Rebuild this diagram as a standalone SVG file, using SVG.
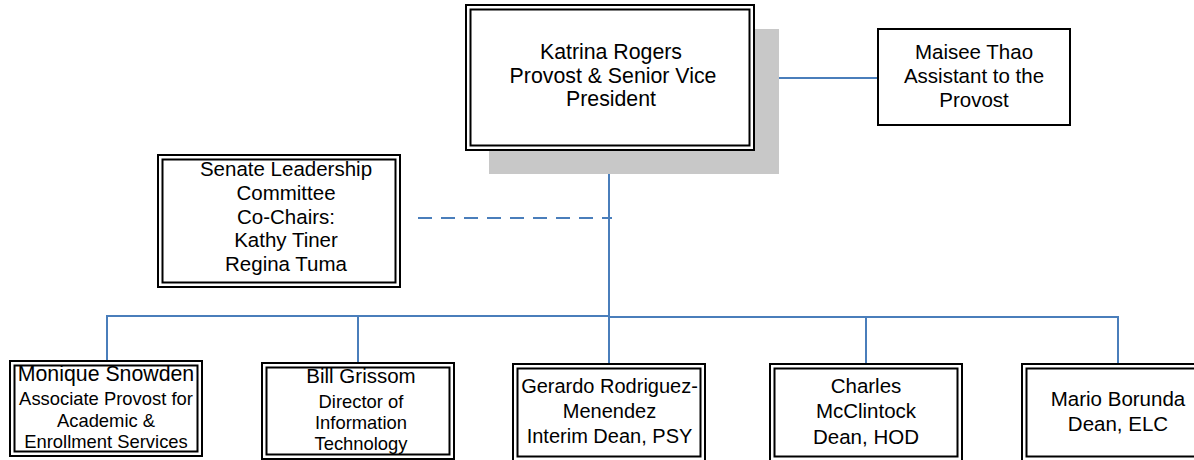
<svg xmlns="http://www.w3.org/2000/svg" width="1194" height="460" viewBox="0 0 1194 460">
<style>
.bg{fill:#ffffff}
.frame{fill:none;stroke:#000;stroke-width:2}
.fill{fill:#ffffff}
.shadow{fill:#c8c8c8}
.t{font-family:"Liberation Sans",Arial,sans-serif;font-size:20.5px;fill:#000;text-anchor:middle}
.m{font-size:21.3px}
.s{font-size:18.4px}
.g{font-size:20px}
.c{fill:none;stroke:#4a7ebb;stroke-width:2}
.d{stroke-dasharray:14 9}
</style>
<rect class="bg" x="0" y="0" width="1194" height="460"/>
<g id="connectors">
<line class="c" x1="754" y1="78" x2="878" y2="78"/>
<line class="c" x1="609" y1="150" x2="609" y2="364"/>
<line class="c d" x1="418" y1="218" x2="612" y2="218"/>
<polyline class="c" points="107,362 107,316 609,316"/>
<line class="c" x1="358" y1="316" x2="358" y2="363"/>
<polyline class="c" points="609,317 1118,317 1118,364"/>
<line class="c" x1="866" y1="317" x2="866" y2="364"/>
</g>
<g id="provost">
<rect class="shadow" x="489" y="29" width="290" height="145"/>
<rect class="fill" x="466" y="5" width="288" height="145"/>
<rect class="frame" x="466" y="5" width="288" height="145"/>
<rect class="frame" x="470.5" y="9.5" width="279" height="136"/>
<text class="t m" x="611" y="59">Katrina Rogers</text>
<text class="t m" x="613" y="83">Provost &amp; Senior Vice</text>
<text class="t m" x="611" y="106">President</text>
</g>
<g id="assistant">
<rect class="fill" x="878" y="29" width="192" height="96"/>
<rect class="frame" x="878" y="29" width="192" height="96"/>
<text class="t" x="974" y="59">Maisee Thao</text>
<text class="t" x="974" y="83">Assistant to the</text>
<text class="t" x="974" y="107">Provost</text>
</g>
<g id="senate">
<rect class="frame" x="158" y="155" width="242" height="132"/>
<rect class="frame" x="162.5" y="159.5" width="233" height="123"/>
<text class="t" x="286" y="176">Senate Leadership</text>
<text class="t" x="286" y="200">Committee</text>
<text class="t" x="286" y="224">Co-Chairs:</text>
<text class="t" x="286" y="247">Kathy Tiner</text>
<text class="t" x="286" y="271">Regina Tuma</text>
</g>
<g id="snowden">
<rect class="frame" x="10" y="361" width="192" height="95"/>
<rect class="frame" x="14.5" y="365.5" width="183" height="86"/>
<text class="t m" x="106" y="381">Monique Snowden</text>
<text class="t s" x="106" y="405">Associate Provost for</text>
<text class="t s" x="106" y="427">Academic &amp;</text>
<text class="t s" x="106" y="448">Enrollment Services</text>
</g>
<g id="grissom">
<rect class="frame" x="262" y="363" width="192" height="96"/>
<rect class="frame" x="266.5" y="367.5" width="183" height="87"/>
<text class="t" x="361" y="383">Bill Grissom</text>
<text class="t s" x="361" y="408">Director of</text>
<text class="t s" x="361" y="429">Information</text>
<text class="t s" x="361" y="450">Technology</text>
</g>
<g id="rodriguez">
<rect class="frame" x="513" y="364" width="192" height="97"/>
<rect class="frame" x="517.5" y="368.5" width="183" height="88"/>
<text class="t g" x="609.5" y="393">Gerardo Rodriguez-</text>
<text class="t g" x="609.5" y="418">Menendez</text>
<text class="t g" x="609.5" y="443">Interim Dean, PSY</text>
</g>
<g id="mcclintock">
<rect class="frame" x="770" y="364" width="192" height="97"/>
<rect class="frame" x="774.5" y="368.5" width="183" height="88"/>
<text class="t" x="866" y="393">Charles</text>
<text class="t" x="866" y="418">McClintock</text>
<text class="t" x="866" y="444">Dean, HOD</text>
</g>
<g id="borunda">
<rect class="frame" x="1022" y="364" width="192" height="97"/>
<rect class="frame" x="1026.5" y="368.5" width="183" height="88"/>
<text class="t" x="1118" y="406">Mario Borunda</text>
<text class="t" x="1118" y="431">Dean, ELC</text>
</g>
</svg>
